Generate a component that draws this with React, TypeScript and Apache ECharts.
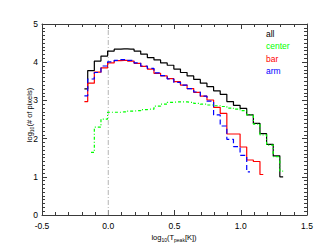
import React, { useEffect, useRef } from 'react';
import * as echarts from 'echarts';

// bin centres of log10(T_peak[K]) histogram
const binCenters = [
  -0.18, -0.13, -0.08, -0.03, 0.02, 0.07, 0.12, 0.17, 0.22, 0.27, 0.32,
  0.37, 0.42, 0.47, 0.52, 0.57, 0.62, 0.67, 0.72, 0.77, 0.82, 0.87, 0.92,
  0.97, 1.02, 1.07, 1.12, 1.17, 1.22, 1.27, 1.32,
];

// log10(# of pixels), starting at binCenters[0]
const allVals = [
  3.30, 3.78, 4.03, 4.16, 4.29, 4.34, 4.35, 4.34, 4.29, 4.21, 4.12, 4.06,
  3.98, 3.92, 3.82, 3.73, 3.64, 3.55, 3.45, 3.36, 3.25, 3.16, 2.97, 2.87,
  2.79, 2.62, 2.40, 2.13, 1.85, 1.55, 1.00,
];
// starting at binCenters[1]
const centerVals = [
  1.64, 2.30, 2.51, 2.69, 2.69, 2.70, 2.72, 2.73, 2.76, 2.77, 2.85, 2.90,
  2.95, 2.96, 2.96, 2.95, 2.92, 2.90, 2.88, 2.86, 2.84, 2.80, 2.77, 2.73,
  2.62, 2.38, 2.10, 1.83, 1.53, 1.15,
];
// starting at binCenters[0]
const barVals = [
  2.97, 3.45, 3.74, 3.85, 3.98, 4.04, 4.05, 4.03, 3.97, 3.89, 3.82, 3.71,
  3.64, 3.57, 3.49, 3.40, 3.31, 3.21, 3.11, 3.01, 2.82, 2.66, 2.12, 2.12,
  1.78, 1.44, 1.40, 1.06,
];
// starting at binCenters[0]
const armVals = [
  3.12, 3.56, 3.73, 3.90, 4.01, 4.05, 4.07, 4.05, 3.98, 3.90, 3.84, 3.72,
  3.65, 3.56, 3.47, 3.40, 3.31, 3.22, 3.11, 2.98, 2.62, 2.33, 1.98, 1.79,
  1.56, 1.13,
];

const legendNames = ['all', 'center', 'bar', 'arm'];
const legendColors = ['#000000', '#00ff00', '#ff0000', '#0000ff'];

const FONT = "'Liberation Sans', Arial, sans-serif";
const AXIS_COLOR = '#3a3a3a';

function pairs(vals: number[], offset: number) {
  return vals.map((v, i) => [binCenters[i + offset], v]);
}

export default function App() {
  const ref = useRef<HTMLDivElement>(null);

  useEffect(() => {
    if (!ref.current) return;
    const chart = echarts.init(ref.current, undefined, { renderer: 'svg' });

    const xAxisBase = {
      type: 'value',
      min: -0.5,
      max: 1.5,
      interval: 0.5,
      axisLine: { show: true, onZero: false, lineStyle: { color: AXIS_COLOR, width: 1 } },
      axisTick: { show: true, inside: true, length: 5, lineStyle: { color: AXIS_COLOR } },
      minorTick: { show: true, splitNumber: 5, length: 3, lineStyle: { color: AXIS_COLOR } },
      splitLine: { show: false },
      minorSplitLine: { show: false },
    };
    const yAxisBase = {
      type: 'value',
      min: 0,
      max: 5,
      interval: 1,
      axisLine: { show: true, onZero: false, lineStyle: { color: AXIS_COLOR, width: 1 } },
      axisTick: { show: true, inside: true, length: 5, lineStyle: { color: AXIS_COLOR } },
      minorTick: { show: true, splitNumber: 10, length: 3, lineStyle: { color: AXIS_COLOR } },
      splitLine: { show: false },
      minorSplitLine: { show: false },
    };

    const option: any = {
      animation: false,
      backgroundColor: '#ffffff',
      grid: { left: 42, right: 25, top: 24, bottom: 34, containLabel: false },
      xAxis: [
        {
          ...xAxisBase,
          position: 'bottom',
          axisLabel: {
            show: true,
            showMinLabel: true,
            showMaxLabel: true,
            formatter: (v: number) => v.toFixed(1),
            color: '#000',
            fontSize: 8.5,
            fontFamily: FONT,
            margin: 6,
          },
        },
        { ...xAxisBase, position: 'top', axisLabel: { show: false } },
      ],
      yAxis: [
        {
          ...yAxisBase,
          position: 'left',
          axisLabel: {
            show: true,
            showMinLabel: true,
            showMaxLabel: true,
            formatter: (v: number) => String(Math.round(v)),
            color: '#000',
            fontSize: 8.5,
            fontFamily: FONT,
            margin: 4,
          },
        },
        { ...yAxisBase, position: 'right', axisLabel: { show: false } },
      ],
      series: [
        {
          type: 'line',
          silent: true,
          symbol: 'none',
          data: [[0, 0], [0, 5]],
          lineStyle: { color: '#b4b4b4', width: 1, type: [5, 2, 1, 2] },
          z: 1,
        },
        {
          name: 'all',
          type: 'line',
          step: 'middle',
          symbol: 'none',
          data: pairs(allVals, 0),
          lineStyle: { color: legendColors[0], width: 1.2 },
          z: 2,
        },
        {
          name: 'bar',
          type: 'line',
          step: 'middle',
          symbol: 'none',
          data: pairs(barVals, 0),
          lineStyle: { color: legendColors[2], width: 1.2 },
          z: 3,
        },
        {
          name: 'arm',
          type: 'line',
          step: 'middle',
          symbol: 'none',
          data: pairs(armVals, 0),
          lineStyle: { color: legendColors[3], width: 1.2, type: [5, 3] },
          z: 4,
        },
        {
          name: 'center',
          type: 'line',
          step: 'middle',
          symbol: 'none',
          data: pairs(centerVals, 1),
          lineStyle: { color: legendColors[1], width: 1.2, type: [3, 2, 1, 2] },
          z: 5,
        },
      ],
      graphic: [
        ...legendNames.map((n, i) => ({
          type: 'text',
          x: 266,
          y: 34 + i * 12.4,
          silent: true,
          style: {
            text: n,
            fill: legendColors[i],
            fontSize: 8.5,
            fontFamily: FONT,
            align: 'left',
            verticalAlign: 'middle',
          },
        })),
        {
          type: 'text',
          x: 174,
          y: 237,
          silent: true,
          style: {
            text: '{a|log}{s|10}{a|(T}{s|peak}{a|[K])}',
            align: 'center',
            verticalAlign: 'middle',
            rich: {
              a: { fontSize: 7.5, fontFamily: FONT, fill: '#000', lineHeight: 10, verticalAlign: 'middle' },
              s: { fontSize: 5, fontFamily: FONT, fill: '#000', lineHeight: 10, verticalAlign: 'bottom' },
            },
          },
        },
        {
          type: 'text',
          x: 29,
          y: 115,
          rotation: Math.PI / 2,
          silent: true,
          style: {
            text: '{a|log}{s|10}{a|(# of pixels)}',
            align: 'center',
            verticalAlign: 'middle',
            rich: {
              a: { fontSize: 7.5, fontFamily: FONT, fill: '#000', lineHeight: 10, verticalAlign: 'middle' },
              s: { fontSize: 5, fontFamily: FONT, fill: '#000', lineHeight: 10, verticalAlign: 'bottom' },
            },
          },
        },
      ],
    };

    chart.setOption(option);
    return () => chart.dispose();
  }, []);

  return (
    <div
      ref={ref}
      style={{ position: 'fixed', left: 0, top: 0, width: 332, height: 249, background: '#fff' }}
    />
  );
}
